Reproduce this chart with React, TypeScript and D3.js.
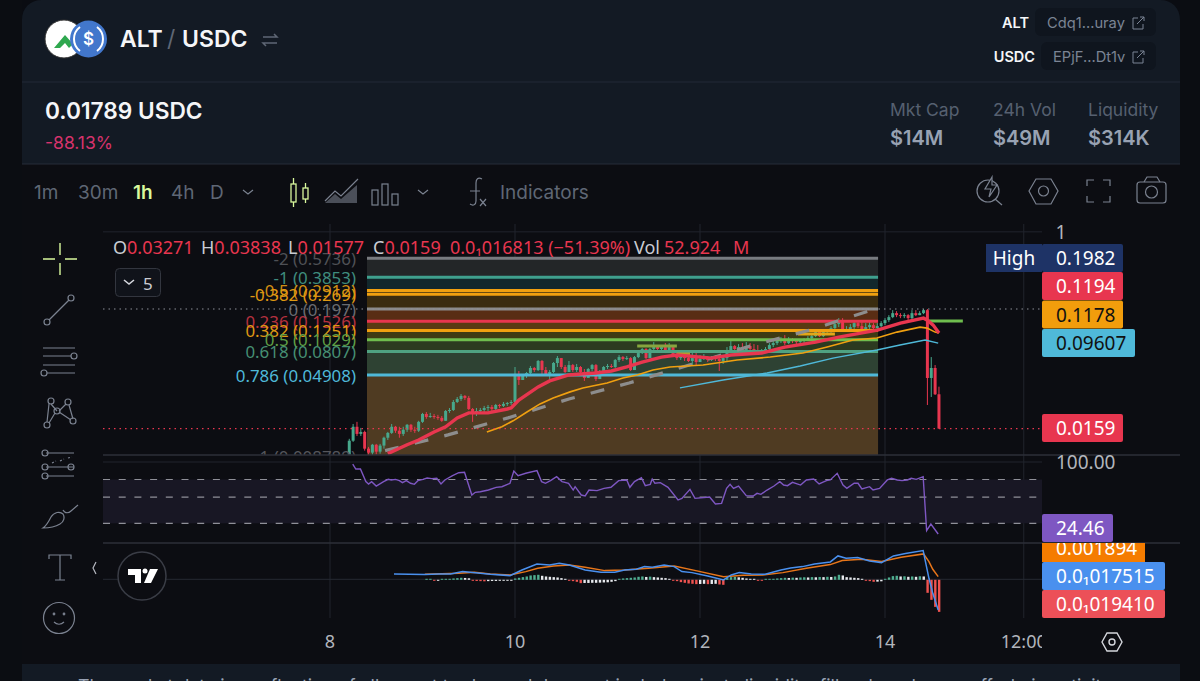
import * as d3 from 'd3';

// hourly candles, hour 0 = day 8 00:00, first candle at firstHour
const firstHour = 5;
const firstOpen = 0.00917;
const closes = [0.0123,0.0165,0.0142,0.0148,0.0104,0.00957,0.0113,0.00977,0.0111,0.0131,0.0145,0.0165,0.0152,0.0142,0.0155,0.0172,0.0155,0.0152,0.0183,0.0216,0.0203,0.0207,0.0203,0.0199,0.0187,0.023,0.0235,0.0278,0.0296,0.0316,0.0303,0.024,0.0216,0.023,0.0235,0.0245,0.025,0.024,0.0261,0.0256,0.0267,0.0272,0.0278,0.0491,0.0442,0.0491,0.0512,0.0569,0.0545,0.0659,0.0545,0.0501,0.0523,0.0632,0.0701,0.0581,0.0523,0.0605,0.0545,0.0581,0.0523,0.0461,0.0557,0.0605,0.0451,0.0523,0.0581,0.0593,0.0581,0.0673,0.0716,0.0687,0.0701,0.0545,0.0716,0.0779,0.0848,0.0701,0.0848,0.0922,0.0848,0.0884,0.0796,0.0884,0.0732,0.0701,0.0732,0.0701,0.0659,0.0701,0.0645,0.0687,0.0701,0.0673,0.0701,0.0687,0.0659,0.0701,0.083,0.0903,0.0848,0.0884,0.083,0.0903,0.0848,0.083,0.0813,0.0813,0.0848,0.0922,0.0961,0.1003,0.1045,0.0961,0.1024,0.1003,0.0982,0.1003,0.1024,0.1068,0.1113,0.1211,0.1113,0.1211,0.1237,0.1317,0.1433,0.1559,0.1263,0.129,0.1345,0.1464,0.1374,0.129,0.1345,0.1403,0.1317,0.1374,0.1464,0.1559,0.166,0.1805,0.1731,0.1695,0.1731,0.1625,0.1805,0.1731,0.1805,0.1923,0.0461,0.0569,0.03271,0.0159];
const highs = [0.0128,0.0175,0.0183,0.0161,0.0152,0.0108,0.0115,0.0115,0.0115,0.0134,0.0148,0.0175,0.0168,0.0165,0.0165,0.0175,0.0175,0.0165,0.0187,0.0221,0.0225,0.0221,0.0216,0.0212,0.0207,0.0235,0.0245,0.029,0.0309,0.0329,0.0322,0.0316,0.0245,0.0245,0.0245,0.0256,0.0261,0.0261,0.0267,0.0267,0.0278,0.0278,0.029,0.0581,0.0534,0.0501,0.0523,0.0593,0.0581,0.0673,0.0673,0.0581,0.0545,0.0645,0.0732,0.0701,0.0605,0.0659,0.0619,0.0619,0.0593,0.0557,0.0569,0.0619,0.0619,0.0545,0.0593,0.0619,0.0619,0.0687,0.0747,0.0732,0.0732,0.0716,0.0732,0.0796,0.0866,0.0866,0.0866,0.0982,0.0922,0.0922,0.0961,0.0961,0.0903,0.0813,0.0779,0.0763,0.0796,0.0796,0.0796,0.0747,0.0763,0.0732,0.0732,0.0747,0.0732,0.0747,0.0884,0.1003,0.0922,0.0941,0.0961,0.0982,0.0961,0.0941,0.0922,0.0848,0.0884,0.0961,0.1003,0.1045,0.109,0.1137,0.109,0.1068,0.1045,0.1045,0.1068,0.1113,0.1161,0.1263,0.1263,0.1263,0.129,0.1374,0.1495,0.1625,0.1625,0.1374,0.1433,0.1527,0.1527,0.1495,0.1464,0.1495,0.1464,0.1464,0.1527,0.1625,0.1731,0.1923,0.1883,0.1805,0.1805,0.1768,0.1923,0.1923,0.1883,0.197,0.197,0.0716,0.0605,0.03838];
const lows = [0.00917,0.012,0.0136,0.0136,0.00998,0.00898,0.00898,0.00917,0.00937,0.0104,0.0125,0.0142,0.0145,0.0131,0.0136,0.0148,0.0148,0.0145,0.0148,0.0179,0.0195,0.0199,0.0195,0.0191,0.0183,0.0187,0.0221,0.023,0.0272,0.0284,0.029,0.0235,0.0183,0.0207,0.0221,0.0225,0.023,0.023,0.0235,0.0245,0.025,0.0256,0.0261,0.0272,0.0398,0.0442,0.0461,0.0501,0.0523,0.0534,0.0491,0.0491,0.0442,0.0512,0.0581,0.0557,0.0512,0.0523,0.0523,0.0523,0.0501,0.0433,0.0461,0.0534,0.0433,0.0451,0.0512,0.0557,0.0569,0.0569,0.0645,0.0659,0.0673,0.0534,0.0545,0.0701,0.0763,0.0687,0.0701,0.0779,0.0813,0.0796,0.0779,0.0796,0.0716,0.0673,0.0673,0.0659,0.0645,0.0605,0.0605,0.0645,0.0673,0.0645,0.0659,0.0659,0.0534,0.0619,0.0659,0.0796,0.0813,0.0813,0.0796,0.083,0.0796,0.0796,0.0779,0.0763,0.0779,0.083,0.0884,0.0922,0.0961,0.0922,0.0941,0.0961,0.0941,0.0961,0.0961,0.1003,0.1045,0.109,0.109,0.109,0.1161,0.1186,0.1263,0.1345,0.1237,0.1237,0.1237,0.1263,0.1317,0.1237,0.1263,0.129,0.1263,0.129,0.1345,0.1403,0.1495,0.1625,0.166,0.1625,0.1625,0.1527,0.1592,0.1695,0.1731,0.1768,0.0261,0.0309,0.0322,0.01577];

const emaFastHours = [15,20,23,27,30,33,36,37,41,46,47,49,54,57,62,65,69,73,77,81,86,90,99,104,112,118,126,132,142,148,154,155,156.5,158];
const emaFast = [0.00937,0.0113,0.0125,0.0148,0.0165,0.0199,0.0221,0.0221,0.0221,0.024,0.0245,0.029,0.0382,0.0433,0.0491,0.0501,0.0512,0.0534,0.0581,0.0645,0.0716,0.0747,0.0701,0.0747,0.0779,0.0884,0.0982,0.109,0.1263,0.1464,0.1625,0.1559,0.1403,0.1186];
const emaMidHours = [40.7,44.6,47.5,51.1,54.5,57.9,62.3,65.6,71.9,76,79.7,83.8,88.2,96.8,105.6,114.2,122.7,129,135.7,141.9,147.1,153.1,154.9,157,158];
const emaMid = [0.0148,0.0165,0.0187,0.0225,0.0267,0.0303,0.0344,0.0374,0.0415,0.0461,0.0491,0.0545,0.0581,0.0605,0.0673,0.0716,0.0779,0.0884,0.1024,0.1068,0.1211,0.1345,0.1317,0.1211,0.1186];
const emaSlowHours = [90.8,102,113.4,122,130.5,141.9,147.9,154.4,157.8];
const emaSlow = [0.0374,0.0442,0.0512,0.0593,0.0701,0.083,0.0922,0.1024,0.0961];
const trendHours = [14.3,30.6,46.2,62,77.6,93.2,109,124.5,140.4];
const trendPrices = [0.00998,0.0139,0.0199,0.0296,0.0415,0.0605,0.0903,0.1263,0.1923];

const fibLevels = ['-2','-1','-0.5','-0.382','0','0.236','0.382','0.5','0.618','0.786','1'];
const fibPriceText = ['0.5736','0.3853','0.2912','0.269','0.197','0.1526','0.1251','0.1029','0.0807','0.04908','0.008789'];
const fibPrices = fibPriceText.map(Number);
const fibLineColors = ['#787b80','#3fa08e','#f0a010','#f0a010','#8b8b8b','#e8364f','#f0a010','#6fbd4e','#4fa282','#4fb9d9','#3a3a3a'];
const fibLabelColors = ['#4f5156','#3f8c7e','#d18d12','#e09a12','#6a6b70','#b5313f','#e09a12','#5f9f45','#468f73','#4fb9d9','#55565c'];
const fibBandColors = ['#232628','#12282c','#3d3010','#3a2c10','#592d14','#5a3a12','#3e3a14','#2c3a20','#2e4233','#4f3b22'];

const pivotStarts = [79.7,90,121.4,155.2];
const pivotEnds = [90,93.4,131,164.2];
const pivotPrices = [0.0903,0.0763,0.1161,0.1527];
const pivotColors = ['#86a63e','#b89a2a','#e3a718','#6fbd4e'];

const rsiHours = [5.9,6.7,7.9,9.3,10,10.8,12,13.9,15.1,15.9,17,18,18.8,19.8,20.9,21.9,22.8,24.1,25.2,26.4,27.7,28.8,29.8,31.8,33.4,34.9,36.8,37.7,39,41.1,43.1,44.6,46.7,47.7,48.8,50.8,53.7,54.9,55.9,57.2,58.8,60.2,61.9,63.1,63.6,65.2,66.2,67.2,69.3,71.1,72.9,74.9,77,77.8,79,80.8,81.8,83.1,83.6,84.3,85.7,87.7,90.3,91.3,93.4,94.7,98.5,100,101.6,102.9,103.8,104.7,106,108,109.8,110.8,111.8,113.4,115.2,116.7,117.7,118.7,120,122.1,123.6,125.5,126.9,128.8,129.8,131.6,133.1,134.1,136,137,138,140,140.9,142.6,144.6,145.7,147.2,148.4,149.8,150.8,152.1,153.9,154.8,155.9,157.8];
const rsiValues = [97.7,92,92,77.6,74.9,77.6,72.6,77.6,80.2,79.5,80.2,78.7,76.4,78.7,75.7,74.5,78.7,80.2,81.7,81,81.4,74.9,79.5,84.4,87.8,88.2,62.3,65.4,66.1,68,71.1,71.8,75.7,89.7,84.4,87.1,90.1,77.6,75.7,78.7,83.3,77.6,75.7,68,71.8,62.3,61.2,68,67.3,69.9,71.1,78.7,79.5,71.1,77.6,82.1,73,74.5,80.6,75.7,76.4,71.1,56.6,58.5,68.8,58.5,60,52,52.8,69.9,74.5,69.9,72.6,61.6,61.2,64.2,63.1,68,72.6,77.6,73.7,73,76.8,73.7,79.5,80.6,74.9,78.7,79.5,87.1,73.7,69.9,75.7,75.7,69.2,71.8,68,69.9,79.5,81.4,79.5,78.7,79.5,81.4,80.2,83.3,21.6,29.2,17.8];
const rsiLevels = [80,60,30];

// MACD values in units of 1e-5
const macdHours = [16.6,24.6,28.2,31.3,34.4,36.4,41.6,46.7,49.8,53.7,57,59.5,62.1,66.2,70.3,73.9,76.4,79.5,81.6,83.6,86.7,89.3,91.3,93.9,98,102.1,104.1,106.2,109.3,112.9,117,119.5,122.6,125.7,129.8,131.8,133.9,136.9,140,143.1,146.2,149.3,153.9,155.4,156.4,157.8];
const macdLine = [32,28,32,32,46,42,30,22,56,92,86,96,86,56,42,42,56,60,76,72,86,76,46,40,20,-4,26,40,32,30,56,68,76,92,104,140,126,130,110,100,140,154,172,6,-84,-184];
const signalHours = [24.6,33.4,37.5,41.6,46.7,50.8,53.9,58,62.1,66.2,71.3,76.4,82.6,89.3,94.9,102.1,107.2,112.3,117.5,123.6,129.8,132.9,138,143.1,148.2,154,155.4,156.4,157.8];
const signalLine = [30,36,42,32,26,46,66,80,86,72,52,56,66,80,52,16,24,26,40,66,88,112,120,106,132,152,106,60,16];
const histFirstHour = 25;
const macdHist = [4,4,-3,-3,5,5,6,8,10,12,11,9,-4,-7,-8,-9,-8,-7,-7,-6,-5,-4,-2,8,12,16,20,26,28,30,24,20,18,16,14,10,6,-4,-8,-12,-20,-19,-19,-18,-18,-17,-16,-15,-12,-8,5,8,10,12,14,18,20,17,19,16,14,12,10,6,-2,-8,-14,-18,-22,-24,-26,-25,-24,-26,-25,-24,-28,-30,10,16,18,15,12,8,4,3,-2,-3,3,4,5,8,10,12,11,13,12,14,15,14,16,15,17,16,18,17,20,30,26,16,14,12,10,6,-6,-8,-12,-11,-9,4,14,22,24,20,21,18,20,18,21,20,-78,-120,-162,-192];

const dayTickHours = [0,48,96,144,180];
const dayTickLabels = ['8','10','12','14','12:00'];

const GREEN = '#47a88c';
const RED = '#e8364f';
const ICON = '#7b8290';
const UI = 'Inter, "Noto Sans", sans-serif';
const CHART = '"Noto Sans", "DejaVu Sans", sans-serif';

const x = d3.scaleLinear().domain([0, 144]).range([330, 885]);
const y = d3.scaleLog().domain([0.04908, 0.197]).range([375, 309]);
const rsiY = d3.scaleLinear().domain([0, 100]).range([549.6, 462]);
const macdY = d3.scaleLinear().domain([0, 100]).range([579.3, 562.6]);

const priceLine = d3.line<[number, number]>().x(d => x(d[0])).y(d => y(d[1]));
const rsiPath = d3.line<[number, number]>().x(d => x(d[0])).y(d => rsiY(d[1]));
const macdPath = d3.line<[number, number]>().x(d => x(d[0])).y(d => macdY(d[1]));
const zip = (a: number[], b: number[]) => a.map((v, i) => [v, b[i]] as [number, number]);

const priceTags = [
  { text: '0.1982', cy: 258, w: 81, fill: '#1e3366', ink: '#fff' },
  { text: '0.1194', cy: 286, w: 81, fill: '#e8364f', ink: '#fff' },
  { text: '0.1178', cy: 314.5, w: 81, fill: '#f29d0c', ink: '#111' },
  { text: '0.09607', cy: 343, w: 93, fill: '#4fb9d9', ink: '#111' },
  { text: '0.0159', cy: 428, w: 81, fill: '#e8364f', ink: '#fff' },
  { text: '24.46', cy: 528, w: 71, fill: '#7e57c2', ink: '#fff' },
  { text: '0.001894', cy: 548, w: 103, fill: '#f57c00', ink: '#fff' },
  { text: '0.0₁017515', cy: 576, w: 123, fill: '#4a90ee', ink: '#fff' },
  { text: '0.0₁019410', cy: 604, w: 123, fill: '#ec5058', ink: '#fff' },
];

function Toolbar() {
  return (
    <g fontFamily={UI} fontSize={19} fill="#5f6775">
      <text x={34} y={199}>1m</text>
      <text x={78} y={199}>30m</text>
      <text x={133} y={199} fill="#d9f99d" fontWeight={600}>1h</text>
      <text x={171} y={199}>4h</text>
      <text x={210} y={199}>D</text>
      <path d="M243 190l5 4 5-4M418 190l5 4 5-4" fill="none" stroke={ICON} strokeWidth={1.2} />
      <g fill="none" stroke="#d9f99d" strokeWidth={1.3}>
        <rect x={291} y={184} width={5} height={18} /><path d="M293.500 178v6M293.500 202v5" />
        <rect x={303} y={188} width={5} height={11} /><path d="M305.500 183v5M305.500 199v4" />
      </g>
      <path d="M325 201l10-10 6 5 17-17" fill="none" stroke={ICON} strokeWidth={1.2} />
      <path d="M325 203l10-9 6 5 16-14v18z" fill="#666c78" opacity={0.7} />
      <g fill="none" stroke={ICON} strokeWidth={1.2}>
        <rect x={372} y={190} width={6} height={15} /><rect x={382} y={184} width={6} height={21} /><rect x={392} y={194} width={6} height={11} />
      </g>
      <path d="M482 179c-4-2-6 0-6 4v18c0 4-3 5-6 3M470 191h10M480 199l6 7M486 199l-6 7" fill="none" stroke={ICON} strokeWidth={1.2} />
      <text x={500} y={199}>Indicators</text>
      <g fill="none" stroke={ICON} strokeWidth={1.2}>
        <circle cx={988} cy={191} r={11} />
        <path d="M992 177l-7 12h6l-2 8 8-12h-5z" fill="#0c0e13" />
        <path d="M995 199l7 6" />
        <path d="M1029 191l7-12h15l7 12-7 13h-15z" />
        <circle cx={1043.500} cy={191} r={5} />
        <path d="M1087 186v-6h7M1103 180h7v6M1110 196v6h-7M1094 202h-7v-6" />
        <rect x={1137} y={182} width={29} height={21} rx={3} />
        <path d="M1144 182l3-5h10l3 5" />
        <circle cx={1151.500} cy={192} r={6} />
      </g>
    </g>
  );
}

function SideTools() {
  return (
    <g fill="none" stroke={ICON} strokeWidth={1.2}>
      <path d="M43 259h12M65 259h12M60 243v12M60 263v12" stroke="#d9f99d" strokeWidth={1.4} />
      <circle cx={47} cy={322} r={3} /><circle cx={71} cy={298} r={3} /><path d="M49 320l20-20" />
      <path d="M43 348h32M43 356h28M43 365h32M47 373h28" /><circle cx={74} cy={356} r={3} /><circle cx={44} cy={373} r={3} />
      <circle cx={51} cy={401} r={3} /><circle cx={68} cy={402} r={3} /><circle cx={47} cy={425} r={3} /><circle cx={73} cy={421} r={3} /><circle cx={57} cy={411} r={3} />
      <path d="M49 404l-2 18M51 404l6 7M66 404l-7 7M59 412l12 8M55 413l-6 10M69 405l4 14" />
      <path d="M46 453h28M46 467h28M46 476h28" /><circle cx={45} cy={453} r={3} /><circle cx={45} cy={467} r={3} /><circle cx={71} cy={467} r={3} /><circle cx={45} cy={476} r={3} />
      <path d="M52 463l4-2M60 461l4-2M68 458l4-1" strokeDasharray="2 2" />
      <path d="M43 528c3-2 6-7 8-11 3-5 9-6 12-3 2 3 1 8-3 10-5 3-11 4-17 4zM63 510c2 4 6 3 8 1l7-6" />
      <path d="M49 559v-4h22v4M60 555v25M55 580h10" />
      <circle cx={59} cy={618} r={15.500} />
      <circle cx={54} cy={614} r={0.8} /><circle cx={64} cy={614} r={0.8} />
      <path d="M54 622c3 3 7 3 10 0" />
      <path d="M96 562l-3 6 3 6" stroke="#b5b8c0" />
    </g>
  );
}

function HeaderCard() {
  return (
    <g>
      <path d="M22 0h1158v164H22z" fill="#131a24" />
      <path d="M22 0v20C22 8 30 0 42 0zM1180 0v20c0-12-8-20-20-20z" fill="#0a0c12" />
      <line x1={22} x2={1180} y1={82} y2={82} stroke="#222936" />
      <line x1={22} x2={1180} y1={164} y2={164} stroke="#262c38" />
      <circle cx={64} cy={39} r={19} fill="#fff" stroke="#333" strokeWidth={1} />
      <path d="M54 48l11-13 8 9-4 4-4-5-5 5z" fill="#2fa84f" />
      <circle cx={88.500} cy={39} r={18.500} fill="#4277cc" />
      <path d="M80 27a15 15 0 0 0 0 24M97 27a15 15 0 0 1 0 24" fill="none" stroke="#fff" strokeWidth={2} />
      <text x={88.500} y={45} textAnchor="middle" fontFamily={UI} fontSize={17} fontWeight={600} fill="#fff">$</text>
      <text x={120} y={47} fontFamily={UI} fontSize={23} fontWeight={600} fill="#f5f6f8">ALT</text>
      <text x={167} y={47} fontFamily={UI} fontSize={23} fill="#5f6775">/</text>
      <text x={182} y={47} fontFamily={UI} fontSize={23} fontWeight={600} fill="#f5f6f8">USDC</text>
      <path d="M263 37h14l-3-3M277 43h-14l3 3" fill="none" stroke="#5f6775" strokeWidth={1.5} />
      <text x={45} y={119} fontFamily={UI} fontSize={22.700} fontWeight={600} fill="#f5f6f8">0.01789 USDC</text>
      <text x={45} y={149} fontFamily={UI} fontSize={17.500} fill="#d6336c">-88.13%</text>

      <text x={1029} y={28} textAnchor="end" fontFamily={UI} fontSize={14.500} fontWeight={600} fill="#f5f6f8">ALT</text>
      <rect x={1035} y={8} width={121} height={28} rx={6} fill="#0f151e" />
      <text x={1047} y={28} fontFamily={UI} fontSize={14.700} fill="#7b8494">Cdq1...uray</text>
      <text x={1035} y={62} textAnchor="end" fontFamily={UI} fontSize={14.500} fontWeight={600} fill="#f5f6f8">USDC</text>
      <rect x={1041} y={42} width={115} height={28} rx={6} fill="#0f151e" />
      <text x={1053} y={62} fontFamily={UI} fontSize={14.700} fill="#7b8494">EPjF...Dt1v</text>
      <path d="M1138 18h-5v11h10v-5M1137 24l7-7M1140 17h4v4M1138 52h-5v11h10v-5M1137 58l7-7M1140 51h4v4" fill="none" stroke="#7b8494" strokeWidth={1} />

      <g fontFamily={UI} fontSize={17.500} fill="#566070">
        <text x={890} y={116}>Mkt Cap</text><text x={993} y={116}>24h Vol</text><text x={1088} y={116}>Liquidity</text>
      </g>
      <g fontFamily={UI} fontSize={20} fontWeight={600} fill="#98a2b3">
        <text x={890} y={145}>$14M</text><text x={993} y={145}>$49M</text><text x={1088} y={145}>$314K</text>
      </g>
    </g>
  );
}

function Candles() {
  return (
    <g>
      {closes.map((c, i) => {
        const open = i === 0 ? firstOpen : closes[i - 1];
        const cx = x(firstHour + i);
        const color = c >= open ? GREEN : RED;
        const top = y(Math.max(open, c));
        const bottom = y(Math.min(open, c));
        return (
          <g key={i}>
            <line x1={cx} x2={cx} y1={y(highs[i])} y2={y(lows[i])} stroke={color} strokeWidth={1} />
            <rect x={cx - 1.5} y={top} width={3} height={Math.max(bottom - top, 1)} fill={color} />
          </g>
        );
      })}
    </g>
  );
}

function Fib() {
  const x0 = x(9.6), x1 = x(142.2);
  return (
    <g>
      {fibBandColors.map((color, i) => (
        <rect key={i} x={x0} width={x1 - x0} y={y(fibPrices[i])} height={y(fibPrices[i + 1]) - y(fibPrices[i])} fill={color} />
      ))}
    </g>
  );
}

function FibLines() {
  const x0 = x(9.6), x1 = x(142.2);
  return (
    <g>
      {fibPrices.map((p, i) => (
        <line key={i} x1={x0} x2={x1} y1={y(p)} y2={y(p)} stroke={fibLineColors[i]} strokeWidth={3} />
      ))}
    </g>
  );
}

export default function App() {
  const histX0 = histFirstHour;
  return (
    <div style={{ position: 'fixed', left: 0, top: 0, width: 1200, height: 681, overflow: 'hidden' }}>
      <svg width={1200} height={681} style={{ display: 'block' }}>
        <defs>
          <clipPath id="pricePane"><rect x={103} y={224} width={939} height={231} /></clipPath>
          <clipPath id="axisX"><rect x={103} y={620} width={939} height={40} /></clipPath>
          <clipPath id="macdTags"><rect x={1042} y={543} width={158} height={80} /></clipPath>
        </defs>
        <rect width={1200} height={681} fill="#0b0d12" />
        <rect x={22} y={164} width={1158} height={500} fill="#0c0d12" />
        <HeaderCard />
        <Toolbar />
        <SideTools />

        {/* grid */}
        {dayTickHours.map(h => (
          <line key={h} x1={x(h)} x2={x(h)} y1={224} y2={618} stroke="#20242d" />
        ))}
        <line x1={103} x2={1042} y1={y(1)} y2={y(1)} stroke="#20242d" />
        <line x1={103} x2={1042} y1={rsiY(100)} y2={rsiY(100)} stroke="#20242d" />
        <line x1={103} x2={1042} y1={macdY(0)} y2={macdY(0)} stroke="#262a33" />

        {/* price pane */}
        <g clipPath="url(#pricePane)">
          <Fib />
          <Candles />
          <FibLines />
          {pivotPrices.map((p, i) => (
            <line key={i} x1={x(pivotStarts[i])} x2={x(pivotEnds[i])} y1={y(p)} y2={y(p)} stroke={pivotColors[i]} strokeWidth={3} />
          ))}
          <path d={priceLine(zip(trendHours, trendPrices)) ?? ''} fill="none" stroke="#8d8d8d" strokeWidth={3.2} strokeDasharray="14 16.500" />
          <path d={priceLine(zip(emaSlowHours, emaSlow)) ?? ''} fill="none" stroke="#4fb9d9" strokeWidth={1.4} />
          <path d={priceLine(zip(emaMidHours, emaMid)) ?? ''} fill="none" stroke="#f0a010" strokeWidth={1.6} />
          <path d={priceLine(zip(emaFastHours, emaFast)) ?? ''} fill="none" stroke={RED} strokeWidth={3.4} />
          <g fontFamily={CHART} fontSize={16.900} textAnchor="end" dominantBaseline="central">
            {fibLevels.map((lvl, i) => (
              <text key={lvl} x={356} y={y(fibPrices[i])} fill={fibLabelColors[i]}>{lvl} ({fibPriceText[i]})</text>
            ))}
          </g>
          <line x1={103} x2={1042} y1={y(0.197)} y2={y(0.197)} stroke="#8b8f98" strokeDasharray="1.500 4" strokeWidth={1.2} />
          <line x1={103} x2={1042} y1={y(0.0159)} y2={y(0.0159)} stroke="#e8364f" strokeDasharray="1.500 4" strokeWidth={1.2} />
        </g>

        {/* legend */}
        <text x={113} y={247} dominantBaseline="central" fontFamily={CHART} fontSize={18} fill="#e8364f" xmlSpace="preserve">
          <tspan fill="#c9ccd3">O</tspan>0.03271
          <tspan x={201} fill="#c9ccd3">H</tspan>0.03838
          <tspan x={288} fill="#c9ccd3">L</tspan>0.01577
          <tspan x={373} fill="#c9ccd3">C</tspan>0.0159
          <tspan x={450}>0.0₁016813 (−51.39%)</tspan>
          <tspan x={634} fill="#c9ccd3">Vol</tspan>
          <tspan x={664}>52.924</tspan>
          <tspan x={733}>M</tspan>
        </text>
        <rect x={115.500} y={268.500} width={45} height={28} rx={4} fill="#10131a" stroke="#33363f" />
        <path d="M124 280l5 4 5-4" fill="none" stroke="#d5d7dd" strokeWidth={1.6} />
        <text x={143} y={283} dominantBaseline="central" fontFamily={CHART} fontSize={17} fill="#c9ccd3">5</text>

        {/* RSI pane */}
        <rect x={103} y={rsiY(80)} width={939} height={rsiY(30) - rsiY(80)} fill="#181724" />
        {rsiLevels.map(l => (
          <line key={l} x1={103} x2={1042} y1={rsiY(l)} y2={rsiY(l)} stroke="#8f9098" strokeDasharray="7 8.700" strokeWidth={1.2} />
        ))}
        <path d={rsiPath(zip(rsiHours, rsiValues)) ?? ''} fill="none" stroke="#7e57c2" strokeWidth={1.4} />

        {/* MACD pane */}
        {macdHist.map((v, i) => {
          const prev = i === 0 ? 0 : macdHist[i - 1];
          const rising = v >= prev;
          const color = v >= 0 ? (rising ? '#4fae90' : '#e8eaee') : (rising ? '#e8eaee' : '#ef5350');
          const cy = macdY(0) + 0.500;
          const h = Math.abs(macdY(v) - macdY(0));
          return <rect key={i} x={x(histX0 + i) - 1} width={2.400} y={v >= 0 ? cy - Math.max(h, 1) : cy} height={Math.max(h, 1)} fill={color} />;
        })}
        <path d={macdPath(zip(signalHours, signalLine)) ?? ''} fill="none" stroke="#e8761a" strokeWidth={1.5} />
        <path d={macdPath(zip(macdHours, macdLine)) ?? ''} fill="none" stroke="#4a90ee" strokeWidth={1.5} />

        {/* pane separators */}
        <line x1={103} x2={1180} y1={455} y2={455} stroke="#2c2f38" strokeWidth={1.5} />
        <line x1={103} x2={1180} y1={543} y2={543} stroke="#2c2f38" strokeWidth={1.5} />

        {/* tradingview badge */}
        <circle cx={142} cy={576} r={24} fill="#0c0d12" stroke="#3a3d46" strokeWidth={1.5} />
        <path d="M128 569h13v14h-6v-8h-7zM150 569h8l-7 14h-7z" fill="#fff" />
        <circle cx={145} cy={571} r={2.500} fill="#fff" />

        {/* price axis */}
        <g fontFamily={CHART} fontSize={19} dominantBaseline="central">
          <text x={1061} y={y(1)} textAnchor="middle" fill="#b2b5bc">1</text>
          <text x={1056} y={462} fill="#b2b5bc">100.00</text>
          <rect x={986} y={244} width={56} height={28} fill="#1e3366" />
          <text x={1014} y={258} textAnchor="middle" fill="#fff">High</text>
          <g clipPath="url(#macdTags)">
            <rect x={1042} y={534} width={103} height={28} fill="#f57c00" />
            <text x={1056} y={548} fill="#fff">0.001894</text>
          </g>
          {priceTags.filter(t => t.text !== '0.001894').map(t => (
            <g key={t.text}>
              <rect x={1042} y={t.cy - 14} width={t.w} height={28} rx={2} fill={t.fill} />
              <text x={1056} y={t.cy} fill={t.ink}>{t.text}</text>
            </g>
          ))}
        </g>

        {/* time axis */}
        <g clipPath="url(#axisX)" fontFamily={CHART} fontSize={18} fill="#b2b5bc" textAnchor="middle" dominantBaseline="central">
          {dayTickHours.map((h, i) => (
            <text key={h} x={x(h)} y={641}>{dayTickLabels[i]}</text>
          ))}
        </g>
        <path d="M1102 642l5-9h10l5 9-5 9h-10z" fill="none" stroke="#d5d7dd" strokeWidth={1.4} />
        <circle cx={1112} cy={642} r={3} fill="none" stroke="#d5d7dd" strokeWidth={1.4} />

        {/* description card, cut by the window */}
        <rect x={22} y={664} width={1158} height={17} fill="#131a24" />
        <text x={78} y={692} fontFamily={UI} fontSize={17.800} fill="#98a2b3">The market data is a reflection of all recent trades and does not include private liquidity, fill-only orders or off-chain activity</text>
      </svg>
    </div>
  );
}
